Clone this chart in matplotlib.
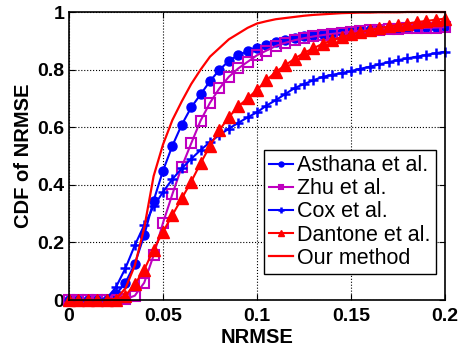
import matplotlib.pyplot as plt

nrmse = [i * 0.005 for i in range(41)]

asthana = [0, 0, 0, 0, 0, 0.02, 0.06, 0.125, 0.225, 0.345, 0.449, 0.536, 0.609, 0.669, 0.714,
           0.76, 0.799, 0.83, 0.851, 0.864, 0.876, 0.886, 0.895, 0.903, 0.91, 0.915, 0.92, 0.924,
           0.928, 0.931, 0.934, 0.936, 0.938, 0.94, 0.942, 0.944, 0.946, 0.947, 0.948, 0.949, 0.95]
zhu = [0, 0, 0, 0, 0, 0, 0.003, 0.015, 0.06, 0.155, 0.268, 0.368, 0.463, 0.544, 0.623,
       0.685, 0.735, 0.775, 0.804, 0.827, 0.85, 0.866, 0.882, 0.893, 0.902, 0.909, 0.915, 0.92,
       0.924, 0.928, 0.932, 0.934, 0.936, 0.938, 0.94, 0.941, 0.943, 0.944, 0.945, 0.946, 0.947]
cox = [0, 0, 0, 0, 0.005, 0.045, 0.11, 0.19, 0.26, 0.325, 0.375, 0.42, 0.457, 0.49, 0.521,
       0.548, 0.573, 0.595, 0.615, 0.634, 0.652, 0.675, 0.694, 0.715, 0.736, 0.75, 0.763, 0.775,
       0.782, 0.788, 0.795, 0.803, 0.81, 0.818, 0.826, 0.833, 0.839, 0.845, 0.851, 0.857, 0.862]
dantone = [0, 0, 0, 0, 0, 0, 0.015, 0.055, 0.105, 0.175, 0.237, 0.295, 0.353, 0.411, 0.475,
           0.535, 0.59, 0.635, 0.672, 0.70, 0.73, 0.763, 0.792, 0.815, 0.838, 0.858, 0.874, 0.89,
           0.902, 0.913, 0.922, 0.93, 0.937, 0.944, 0.95, 0.955, 0.96, 0.965, 0.969, 0.973, 0.977]
ours = [0, 0, 0, 0, 0, 0.005, 0.04, 0.12, 0.25, 0.43, 0.54, 0.625, 0.69, 0.75, 0.80,
        0.845, 0.875, 0.905, 0.925, 0.945, 0.96, 0.968, 0.975, 0.979, 0.983, 0.987, 0.99, 0.992,
        0.994, 0.996, 0.997, 0.998, 0.998, 0.999, 0.999, 0.999, 1.0, 1.0, 1.0, 1.0, 1.0]

xticks = [0, 0.05, 0.1, 0.15, 0.2]
xticklabels = ['0', '0.05', '0.1', '0.15', '0.2']
yticks = [0, 0.2, 0.4, 0.6, 0.8, 1.0]
yticklabels = ['0', '0.2', '0.4', '0.6', '0.8', '1']

plt.rcParams['font.family'] = ['Liberation Sans', 'DejaVu Sans']

fig = plt.figure(figsize=(4.61, 3.47), dpi=100)
ax = fig.add_axes([0.1497, 0.1354, 0.8156, 0.83])

ax.plot(nrmse, asthana, color='#0000ff', lw=1.5, marker='o', ms=6.5, label='Asthana et al.', clip_on=False)
ax.plot(nrmse, zhu, color='#bf00bf', lw=1.5, marker='s', ms=6.5, mfc='none', mew=1.5, label='Zhu et al.', clip_on=False)
ax.plot(nrmse, cox, color='#0000ff', lw=1.5, marker='+', ms=7, mew=1.8, label='Cox et al.', clip_on=False)
ax.plot(nrmse, dantone, color='#ff0000', lw=1.5, marker='^', ms=8, label='Dantone et al.', clip_on=False)
ax.plot(nrmse, ours, color='#ff0000', lw=1.6, label='Our method', clip_on=False)

ax.set_xlim(0, 0.2)
ax.set_ylim(0, 1)
ax.set_xticks(xticks)
ax.set_xticklabels(xticklabels, fontsize=14, fontweight='bold')
ax.set_yticks(yticks)
ax.set_yticklabels(yticklabels, fontsize=14, fontweight='bold')
ax.tick_params(axis='x', pad=6)
ax.tick_params(direction='in', top=True, right=True, length=4, width=0.8)
ax.grid(True, color='black', linestyle=':', lw=0.8)
for s in ax.spines.values():
    s.set_linewidth(1.2)

ax.set_xlabel('NRMSE', fontsize=14.5, fontweight='bold', labelpad=2)
ax.set_ylabel('CDF of NRMSE', fontsize=14.5, fontweight='bold', labelpad=3)

leg = ax.legend(loc='lower right', bbox_to_anchor=(0.976, 0.09), fontsize=15.5, markerscale=0.55,
                handlelength=1.1, handletextpad=0.2, borderpad=0.25, labelspacing=0.1,
                fancybox=False, framealpha=1, edgecolor='black', borderaxespad=0)
leg.get_frame().set_linewidth(1.0)

fig.savefig('out.png', dpi=100)
